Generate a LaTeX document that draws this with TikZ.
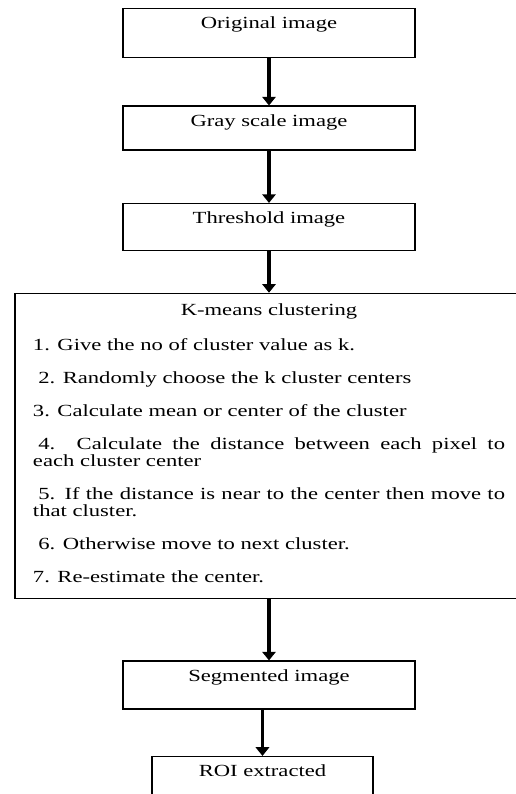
\documentclass[tikz,border=0pt]{standalone}
\usepackage{fontspec}
\setmainfont[FakeStretch=1.33]{Liberation Serif}
\usepackage{tikz}
\usetikzlibrary{positioning}
\usetikzlibrary{arrows.meta}

\begin{document}
\begin{tikzpicture}[>={Triangle[width=10pt,length=6.5pt]},node distance=35pt,
  font=\fontsize{12.75pt}{12.75pt}\selectfont,
  step box/.style={draw,line width=1.1pt,minimum width=219pt,inner sep=0pt,text height=15pt,text depth=#1},
  step box/.default=20pt,
  cluster box/.style={draw,line width=1.1pt,text width=354pt,inner xsep=13.5pt,inner ysep=8pt,align=justify},
  flow/.style={->,line width=2.5pt}]
  \useasboundingbox (0,0) rectangle (387pt,-595.5pt);
  \clip (0,0) rectangle (387pt,-595.5pt);
  % steps before clustering
  \node[step box=21.75pt,anchor=north] (orig) at (201.75pt,-6pt) {Original image};
  \node[step box=18pt] (gray) [below=35.25pt of orig] {Gray scale image};
  \node[step box=20.25pt] (thresh) [below=39pt of gray] {Threshold image};
  % clustering steps
  \node[cluster box] (kmeans) [below=31pt of thresh] {%
    {\centering K-means clustering\par}\vspace{13.5pt}
    1. Give the no of cluster value as k.\\[12pt]
    \hspace*{4pt}2. Randomly choose the k cluster centers\\[12pt]
    3. Calculate mean or center of the cluster\\[12pt]
    \hspace*{4pt}4. Calculate the distance between each pixel to\linebreak each cluster center\\[12pt]
    \hspace*{4pt}5. If the distance is near to the center then move to\linebreak that cluster.\\[12pt]
    \hspace*{4pt}6. Otherwise move to next cluster.\\[12pt]
    7. Re-estimate the center.\strut};
  % after clustering
  \node[step box=21pt] (seg) [below=45.75pt of kmeans] {Segmented image};
  \node[step box=20pt,minimum width=165.75pt] (roi) [below=34.5pt of seg,xshift=-4.9pt] {ROI extracted};
  \draw[flow] (orig) -- (gray);
  \draw[flow] (gray) -- (thresh);
  \draw[flow] (thresh) -- (kmeans);
  \draw[flow] (kmeans) -- (seg);
  \draw[flow] (seg.south -| roi) -- (roi);
\end{tikzpicture}
\end{document}
